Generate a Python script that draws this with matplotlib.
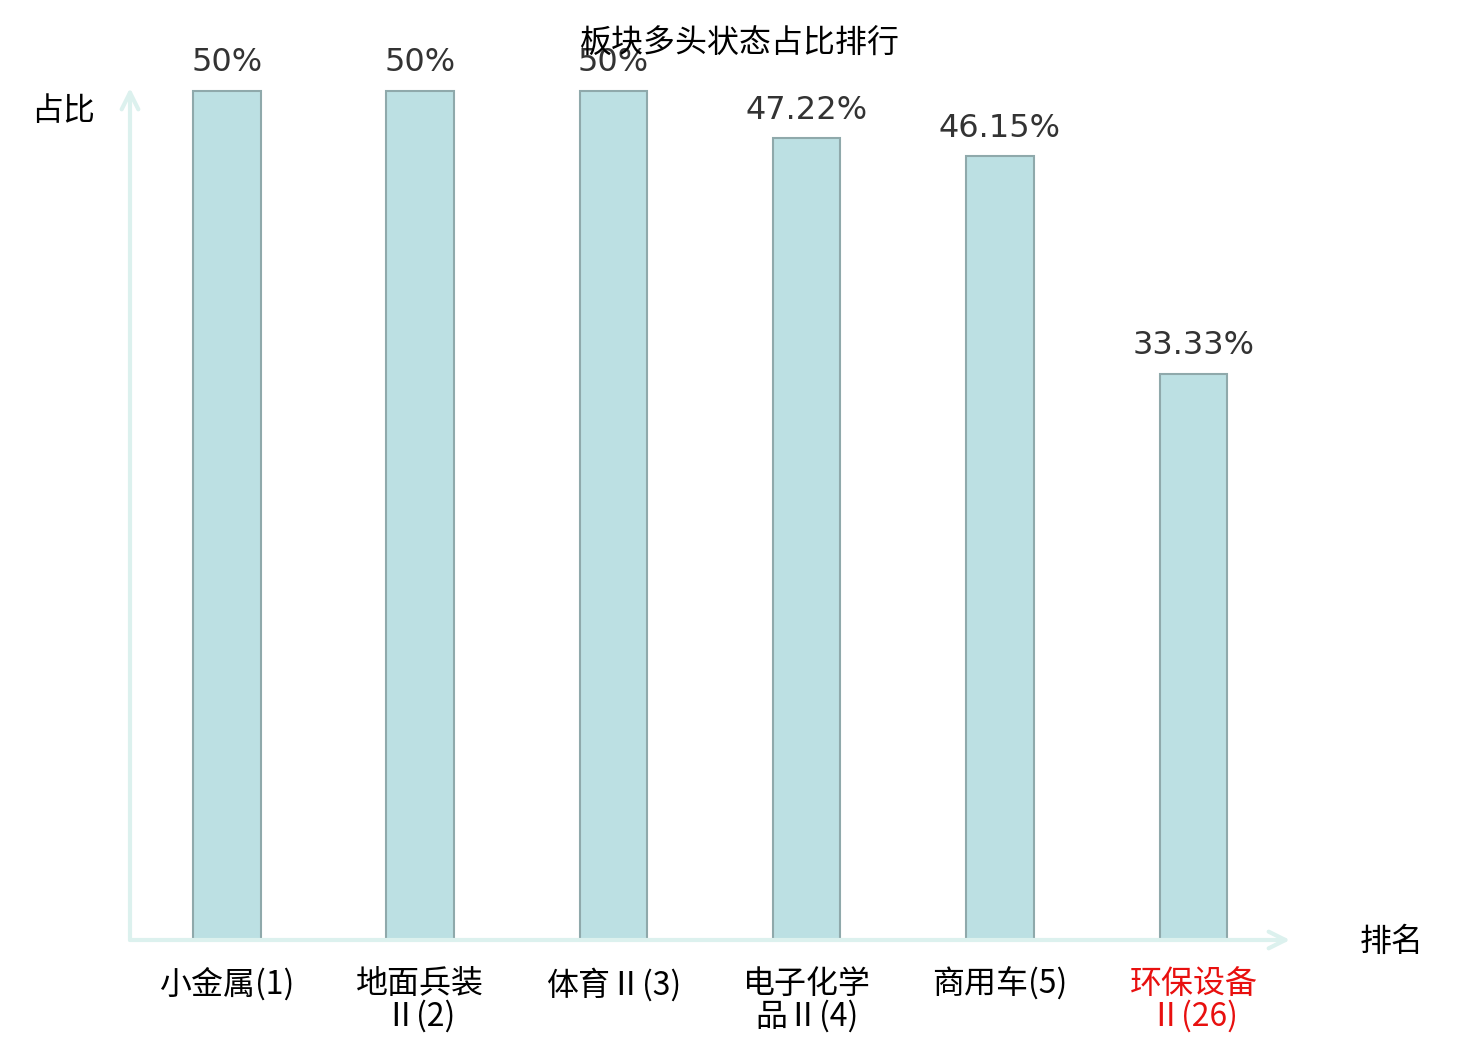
import matplotlib
matplotlib.use('Agg')
import matplotlib.pyplot as plt

plt.rcParams['font.family'] = ['Noto Sans CJK SC', 'DejaVu Sans']

# 数据
categories = ['小金属(1)', '地面兵装\nⅡ(2)', '体育Ⅱ(3)', '电子化学\n品Ⅱ(4)', '商用车(5)', '环保设备\nⅡ(26)']
values = [50, 50, 50, 47.22, 46.15, 33.33]
value_labels = ['50%', '50%', '50%', '47.22%', '46.15%', '33.33%']
label_colors = ['black', 'black', 'black', 'black', 'black', '#e8100f']

axis_color = '#dcf1ee'

fig = plt.figure(figsize=(14.8, 10.4), dpi=100)
ax = fig.add_axes([130 / 1480, 100 / 1040, 1160 / 1480, 852 / 1040])

x = list(range(len(values)))
bars = ax.bar(x, values, width=0.35, color='#bce0e3', edgecolor='#8fa9ab', linewidth=1.5, zorder=3)

for b, t in zip(bars, value_labels):
    ax.text(b.get_x() + b.get_width() / 2, b.get_height() + 0.75, t,
            ha='center', va='bottom', fontsize=23, color='#333333',
            family='DejaVu Sans')

ax.set_xlim(-0.5, 5.5)
ax.set_ylim(0, 50.18)
ax.set_yticks([])
ax.set_xticks(x)
ax.set_xticklabels(categories, fontsize=23, linespacing=1.0, va='top')
ax.tick_params(axis='x', length=0, pad=20)
for lbl, c in zip(ax.get_xticklabels(), label_colors):
    lbl.set_color(c)

for s in ax.spines.values():
    s.set_visible(False)

# 坐标轴箭头
ax.annotate('', xy=(1.0, 0), xytext=(0, 0), xycoords='axes fraction',
            arrowprops=dict(arrowstyle='->', color=axis_color, lw=3,
                            mutation_scale=30, shrinkA=0, shrinkB=0))
ax.annotate('', xy=(0, 1.0), xytext=(0, 0), xycoords='axes fraction',
            arrowprops=dict(arrowstyle='->', color=axis_color, lw=3,
                            mutation_scale=30, shrinkA=0, shrinkB=0))

fig.text(63 / 1480, 1 - 111 / 1040, '占比', ha='center', va='center', fontsize=23)
fig.text(1392 / 1480, 1 - 942 / 1040, '排名', ha='center', va='center', fontsize=23)
fig.text(740 / 1480, 1 - 44 / 1040, '板块多头状态占比排行', ha='center', va='center', fontsize=23)

fig.savefig('out.png', dpi=100)
